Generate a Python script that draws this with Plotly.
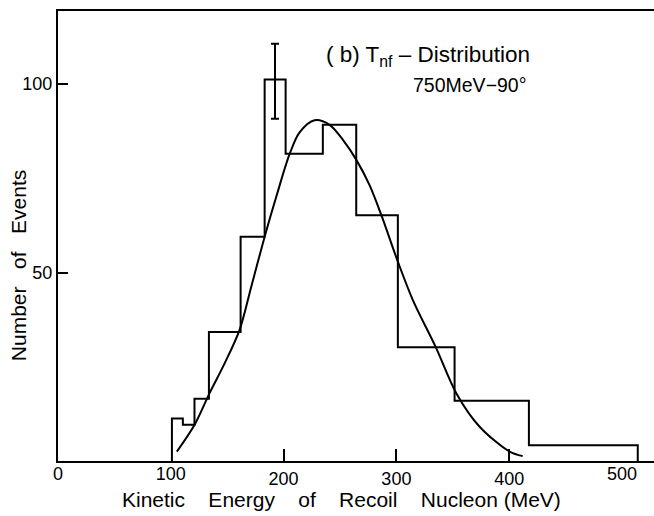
import plotly.graph_objects as go

# ---- data ----
bin_edges = [101, 110.7, 121, 133.8, 161.9, 183.2, 201.8, 234.8, 264.4, 301.3, 351.6, 417.5, 514]
counts = [11.3, 9.6, 16.5, 34.2, 59.5, 101.2, 81.5, 89.2, 65.2, 30.2, 16.0, 4.2]

fit_x = [105.4, 121.1, 134.4, 147.7, 161, 171.4, 183.2, 193.5, 205.3, 214.2, 227.5, 240.8,
         252.6, 264.5, 276.2, 286.6, 301.3, 314.6, 335.4, 353.1, 373.8, 400.4, 412]
fit_y = [2.5, 9.6, 18, 25.9, 34.8, 46.3, 59.5, 70.1, 81.4, 87.2, 90.4, 89.2,
         85.2, 79.9, 73.2, 65.3, 52.9, 42.7, 29.9, 18, 9.1, 2.5, 1.3]

err_x = [192.4]
err_y = [100.75]
err_size = [9.95]

# ticks drawn inside at 200/300/400; labels only at 0/100/500 (their ticks are hidden by lines)
x_tick_vals = [200, 300, 400]
x_tick_text = ["200", "300", "400"]
x_label_only_vals = [0, 100, 500]
x_label_only_text = ["0", "100", "500"]
y_tick_vals = [50, 100]
y_tick_text = ["50", "100"]

X_RANGE = [0, 528.4]
Y_RANGE = [0, 119.4]

FONT = "Liberation Sans, Arial, sans-serif"
SP = "\u00a0"

# histogram outline built from edges/counts
hx = [bin_edges[0]] + bin_edges[:-1] + [bin_edges[-1], bin_edges[-1]]
hy = [0] + counts + [counts[-1], 0]

fig = go.Figure()
fig.add_trace(go.Scatter(x=hx, y=hy, mode="lines", line=dict(shape="hv", color="black", width=2),
                         hoverinfo="skip", showlegend=False))
fig.add_trace(go.Scatter(x=fit_x, y=fit_y, mode="lines", line=dict(shape="spline", smoothing=0.9,
                         color="black", width=2), showlegend=False))
fig.add_trace(go.Scatter(x=err_x, y=err_y, mode="markers", marker=dict(size=1, color="rgba(0,0,0,0)"),
                         error_y=dict(type="data", array=err_size, visible=True, color="black",
                                      thickness=2, width=4), showlegend=False, xaxis="x2"))

axis_font = dict(size=18, family=FONT, color="black")
fig.update_layout(
    width=654, height=516,
    margin=dict(l=58, r=0, t=11, b=55),
    paper_bgcolor="white", plot_bgcolor="white",
    font=dict(family=FONT, color="black"),
    xaxis=dict(range=X_RANGE, tickmode="array", tickvals=x_tick_vals, ticktext=x_tick_text,
               ticks="inside", ticklen=12, tickwidth=2, tickcolor="black",
               showline=True, linecolor="black", linewidth=2, mirror=True,
               showgrid=False, zeroline=False, tickfont=axis_font),
    xaxis2=dict(range=X_RANGE, overlaying="x", anchor="y", side="bottom", tickmode="array",
                tickvals=x_label_only_vals, ticktext=x_label_only_text, ticks="",
                showline=False, showgrid=False, zeroline=False, tickfont=axis_font),
    yaxis=dict(range=Y_RANGE, tickmode="array", tickvals=y_tick_vals, ticktext=y_tick_text,
               ticks="inside", ticklen=10, tickwidth=2, tickcolor="black",
               showline=True, linecolor="black", linewidth=2, mirror=False,
               showgrid=False, zeroline=False, tickfont=axis_font),
    annotations=[
        dict(text="( b) T<sub>nf</sub> \u2013 Distribution", xref="paper", yref="paper",
             x=0.447, y=0.90, xanchor="left", yanchor="middle", showarrow=False,
             font=dict(size=22.5, family=FONT)),
        dict(text="750MeV\u221290\u00b0", xref="paper", yref="paper",
             x=0.592, y=0.836, xanchor="left", yanchor="middle", showarrow=False,
             font=dict(size=19.5, family=FONT)),
        dict(text=("Kinetic" + SP * 4 + "Energy" + SP * 4 + "of" + SP * 4 + "Recoil" + SP * 4
                   + "Nucleon (MeV)"),
             xref="paper", yref="paper", x=0.4757, y=-0.085, xanchor="center", yanchor="middle",
             showarrow=False, font=dict(size=21, family=FONT)),
        dict(text="Number" + SP * 3 + "of" + SP * 3 + "Events", xref="paper", yref="paper",
             x=-0.0671, y=0.433, xanchor="center", yanchor="middle", textangle=-90,
             showarrow=False, font=dict(size=21, family=FONT)),
    ],
)

fig.write_html("out.html")
